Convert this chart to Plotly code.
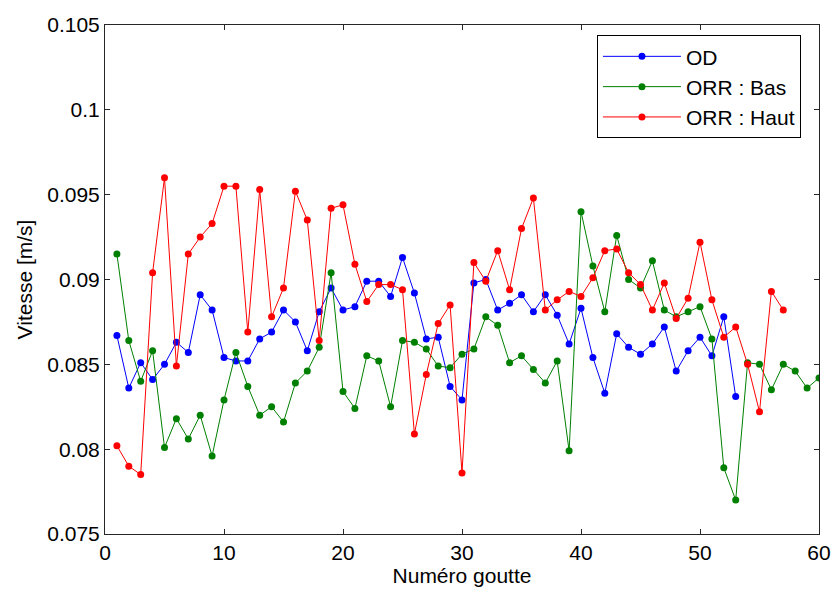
import plotly.graph_objects as go

od = [0.0867, 0.0836, 0.0851, 0.0841, 0.0850, 0.0863, 0.0857, 0.0891, 0.0882, 0.0854,
      0.0852, 0.0852, 0.0865, 0.0869, 0.0882, 0.0875, 0.0858, 0.0881, 0.0895, 0.0882,
      0.0884, 0.0899, 0.0899, 0.0890, 0.0913, 0.0892, 0.0865, 0.0866, 0.0837, 0.0829,
      0.0898, 0.0900, 0.0882, 0.0886, 0.0891, 0.0881, 0.0891, 0.0879, 0.0862, 0.0883,
      0.0854, 0.0833, 0.0868, 0.0860, 0.0856, 0.0862, 0.0872, 0.0846, 0.0858, 0.0866,
      0.0855, 0.0878, 0.0831]

orr_bas = [0.0915, 0.0864, 0.0840, 0.0858, 0.0801, 0.0818, 0.0806, 0.0820, 0.0796, 0.0829,
           0.0857, 0.0837, 0.0820, 0.0825, 0.0816, 0.0839, 0.0846, 0.0860, 0.0904, 0.0834,
           0.0824, 0.0855, 0.0852, 0.0825, 0.0864, 0.0863, 0.0859, 0.0849, 0.0848, 0.0856,
           0.0859, 0.0878, 0.0873, 0.0851, 0.0855, 0.0847, 0.0839, 0.0852, 0.0799, 0.0940,
           0.0908, 0.0881, 0.0926, 0.0900, 0.0895, 0.0911, 0.0882, 0.0878, 0.0881, 0.0884,
           0.0865, 0.0789, 0.0770, 0.0851, 0.0850, 0.0835, 0.0850, 0.0846, 0.0836, 0.0842]

orr_haut = [0.0802, 0.0790, 0.0785, 0.0904, 0.0960, 0.0849, 0.0915, 0.0925, 0.0933, 0.0955,
            0.0955, 0.0869, 0.0953, 0.0878, 0.0895, 0.0952, 0.0935, 0.0864, 0.0942, 0.0944,
            0.0909, 0.0887, 0.0897, 0.0897, 0.0894, 0.0809, 0.0844, 0.0874, 0.0885, 0.0786,
            0.0910, 0.0899, 0.0917, 0.0894, 0.0930, 0.0948, 0.0882, 0.0888, 0.0893, 0.0890,
            0.0901, 0.0917, 0.0918, 0.0904, 0.0897, 0.0882, 0.0898, 0.0877, 0.0889, 0.0922,
            0.0888, 0.0866, 0.0872, 0.0850, 0.0822, 0.0893, 0.0882]

y_ticks = [0.075, 0.08, 0.085, 0.09, 0.095, 0.1, 0.105]
y_ticklabels = ["0.075", "0.08", "0.085", "0.09", "0.095", "0.1", "0.105"]
x_ticks = [0, 10, 20, 30, 40, 50, 60]

series = [
    ("OD", od, "#0000FF"),
    ("ORR : Bas", orr_bas, "#008000"),
    ("ORR : Haut", orr_haut, "#FF0000"),
]

FONT = "Liberation Sans, Arial, sans-serif"

fig = go.Figure()
for name, vals, col in series:
    fig.add_trace(go.Scatter(
        x=list(range(1, len(vals) + 1)), y=vals, name=name,
        mode="lines+markers",
        line=dict(color=col, width=1),
        marker=dict(color=col, size=7),
    ))

axis_common = dict(
    showline=True, linecolor="#262626", linewidth=1, mirror="ticks",
    ticks="inside", ticklen=5, tickcolor="#262626",
    showgrid=False, zeroline=False, automargin=False,
    tickfont=dict(family=FONT, size=21, color="#000"),
    title_font=dict(family=FONT, size=21, color="#000"),
)

fig.update_layout(
    template="none",
    width=833, height=592,
    margin=dict(l=105, r=14, t=25, b=58, autoexpand=False),
    paper_bgcolor="white", plot_bgcolor="white",
    font=dict(family=FONT, size=21, color="#000"),
    xaxis=dict(range=[0, 60], tickvals=x_ticks, title=dict(text="Numéro goutte", standoff=2), **axis_common),
    yaxis=dict(range=[0.075, 0.105], tickvals=y_ticks, ticktext=y_ticklabels,
               title=dict(text="Vitesse [m/s]", standoff=8), **axis_common),
    legend=dict(
        x=0.689, y=0.98, xanchor="left", yanchor="top",
        bordercolor="#000", borderwidth=1, bgcolor="white",
        font=dict(family=FONT, size=21), tracegroupgap=0, itemwidth=78,
    ),
    showlegend=True,
)

fig.write_html(
    "out.html",
    config={"displayModeBar": False},
    post_script="document.body.style.margin='0';document.body.style.overflow='hidden';",
)
